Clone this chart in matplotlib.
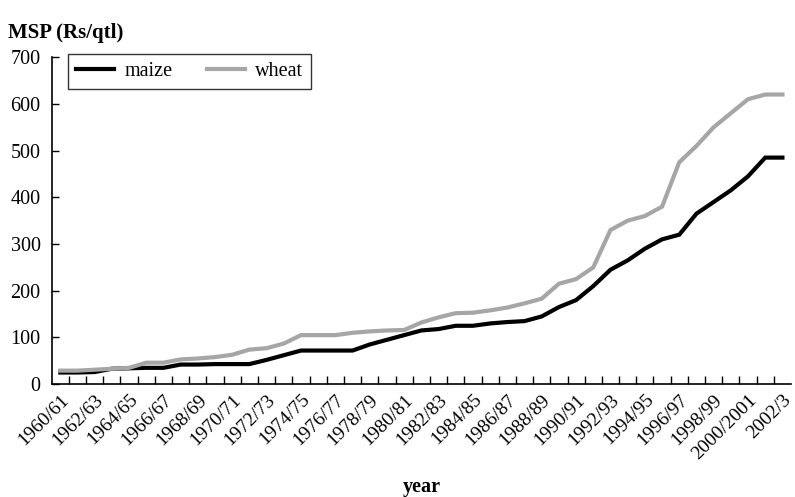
import numpy as np
import matplotlib
matplotlib.use('Agg')
from matplotlib import pyplot as plt

years = ['1960/61', '1961/62', '1962/63', '1963/64', '1964/65', '1965/66', '1966/67',
         '1967/68', '1968/69', '1969/70', '1970/71', '1971/72', '1972/73', '1973/74',
         '1974/75', '1975/76', '1976/77', '1977/78', '1978/79', '1979/80', '1980/81',
         '1981/82', '1982/83', '1983/84', '1984/85', '1985/86', '1986/87', '1987/88',
         '1988/89', '1989/90', '1990/91', '1991/92', '1992/93', '1993/94', '1994/95',
         '1995/96', '1996/97', '1997/98', '1998/99', '1999/2000', '2000/2001',
         '2001/2', '2002/3']
maize = [25, 25, 26, 33, 34, 35, 35, 42, 42, 43, 43, 43, 52, 62, 72, 72, 72, 72,
         85, 95, 105, 115, 118, 125, 125, 130, 133, 135, 145, 165, 180, 210, 245,
         265, 290, 310, 320, 365, 390, 415, 445, 485, 485]
wheat = [29, 29, 31, 33, 35, 46, 46, 53, 55, 58, 63, 74, 77, 87, 105, 105, 105, 110,
         113, 115, 116, 132, 143, 152, 153, 158, 164, 173, 183, 215, 225, 250, 330,
         350, 360, 380, 475, 510, 550, 580, 610, 620, 620]

plt.rcParams['font.family'] = 'Liberation Serif'

fig = plt.figure(figsize=(7.95, 4.97), dpi=100)
ax = fig.add_axes([0.065, 0.227, 0.93, 0.658])

x = np.arange(len(years))
ax.plot(x, maize, color='black', lw=3, label='maize', solid_joinstyle='miter')
ax.plot(x, wheat, color='#a6a6a6', lw=3, label='wheat', solid_joinstyle='miter')

ax.set_xlim(-0.5, len(years) - 0.5)
ax.set_ylim(0, 700)
ax.set_yticks(range(0, 701, 100))
ax.tick_params(axis='y', direction='in', length=5, width=1, labelsize=14.5, pad=8)

# labels on every other year, tick marks between categories
ax.set_xticks(x[::2])
ax.set_xticklabels(years[::2], rotation=45, ha='right', va='top',
                   rotation_mode='anchor', fontsize=14)
ax.tick_params(axis='x', which='major', length=0, pad=5)
ax.set_xticks(x[:-1] + 0.5, minor=True)
ax.tick_params(axis='x', which='minor', direction='in', length=6, width=1)

for s in ['top', 'right']:
    ax.spines[s].set_visible(False)
for s in ['left', 'bottom']:
    ax.spines[s].set_linewidth(1.2)

leg = ax.legend(loc='upper left', bbox_to_anchor=(0.022, 1.01), ncol=2, fontsize=14.5,
                frameon=True, fancybox=False, edgecolor='black', handlelength=1.9,
                handletextpad=0.5, columnspacing=1.7, borderpad=0.4, borderaxespad=0)
leg.get_frame().set_linewidth(1.0)

fig.text(0.01, 0.934, 'MSP (Rs/qtl)', fontsize=15, fontweight='bold', ha='left', va='center')
fig.text(0.53, 0.02, 'year', fontsize=14.5, fontweight='bold', ha='center', va='center')

fig.savefig('out.png', dpi=100)
